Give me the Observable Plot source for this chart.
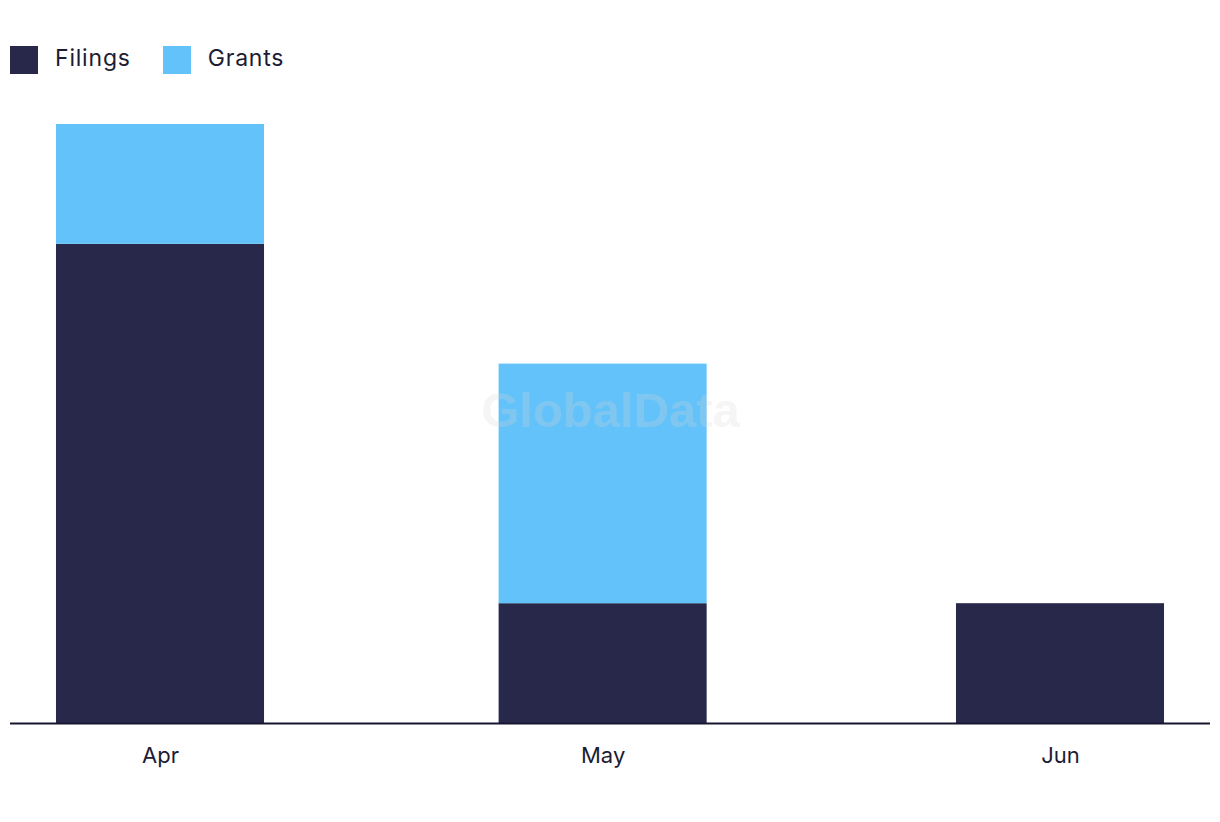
<!DOCTYPE html>
<html>
<head>
<meta charset="utf-8">
<script src="https://cdn.jsdelivr.net/npm/d3@7"></script>
<script src="https://cdn.jsdelivr.net/npm/@observablehq/plot@0.6"></script>
<style>
  html, body { margin: 0; padding: 0; background: #fff; }
  body { font-family: Inter, "Noto Sans", sans-serif; width: 1220px; }
  #legend { display: flex; height: 100px; box-sizing: border-box; padding: 46px 0 0 10px; align-items: flex-start; }
  .item { display: flex; align-items: center; margin-right: 32px; }
  .sw { width: 28px; height: 28px; margin-right: 17px; }
  .lb { font-size: 23px; color: #1c1c34; line-height: 28px; letter-spacing: 0.8px; position: relative; top: -2px; }
</style>
</head>
<body>
<div id="legend"></div>
<div id="chart"></div>
<script>
const months = ["2024-04-01", "2024-05-01", "2024-06-01"];
const seriesNames = ["Filings", "Grants"];
const filings = [4, 1, 1];
const grants = [1, 2, 0];
const colors = ["#27284a", "#62c2f9"];

const DAY = 864e5;
const halfBarDays = 7.05;
const dates = months.map(m => new Date(m + "T00:00:00Z"));

const rows = [];
dates.forEach((d, i) => {
  const f = filings[i], g = grants[i];
  rows.push({date: d, series: "Filings", y1: 0, y2: f});
  if (g > 0) rows.push({date: d, series: "Grants", y1: f, y2: f + g});
});

const legend = document.getElementById("legend");
seriesNames.forEach((s, i) => {
  const it = document.createElement("div");
  it.className = "item";
  it.innerHTML = `<div class="sw" style="background:${colors[i]}"></div><span class="lb">${s}</span>`;
  legend.appendChild(it);
});

const padDays = 10.167;
const chart = Plot.plot({
  width: 1220,
  height: 683,
  marginLeft: 10,
  marginRight: 10,
  marginTop: 24,
  marginBottom: 60,
  style: {fontFamily: "Inter, 'Noto Sans', sans-serif", fontSize: "22px", color: "#1c1c34"},
  x: {
    type: "utc",
    domain: [new Date(+dates[0] - padDays * DAY), new Date(+dates[2] + padDays * DAY)],
    ticks: dates,
    tickFormat: d3.utcFormat("%b"),
    tickSize: 0,
    tickPadding: 24,
    label: null
  },
  y: {domain: [0, 5], axis: null},
  color: {domain: seriesNames, range: colors},
  marks: [
    Plot.rectY(rows, {
      x1: d => new Date(+d.date - halfBarDays * DAY),
      x2: d => new Date(+d.date + halfBarDays * DAY),
      y1: "y1", y2: "y2", fill: "series"
    }),
    Plot.ruleY([0], {stroke: "#161630", strokeWidth: 2}),
    Plot.text(["GlobalData"], {
      frameAnchor: "middle", dy: -13, fontSize: 49, fontWeight: "bold",
      fontFamily: "Liberation Sans, Arial, sans-serif",
      fill: "#d8d8d8", fillOpacity: 0.25
    })
  ]
});
document.getElementById("chart").appendChild(chart);
</script>
</body>
</html>
